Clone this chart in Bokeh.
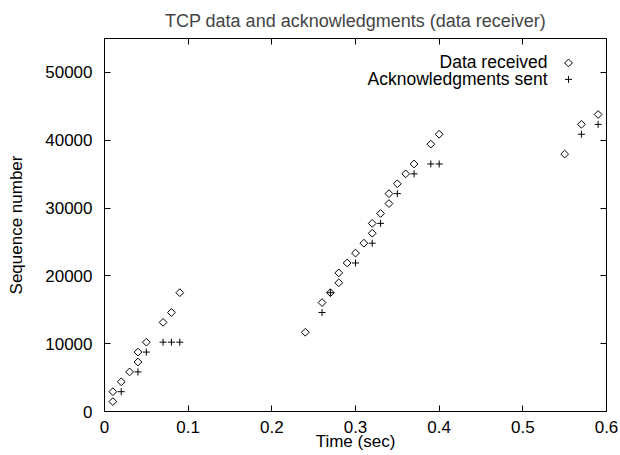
import numpy as np
from bokeh.plotting import figure
from bokeh.models import LinearAxis, Range1d, FixedTicker
from bokeh.core.properties import value
from bokeh.embed import file_html
from bokeh.resources import INLINE

# ---- data ----
recv_time = [0.01, 0.01, 0.02, 0.03, 0.04, 0.04, 0.05, 0.07, 0.08, 0.09,
             0.24, 0.26, 0.27, 0.28, 0.28, 0.29, 0.30, 0.31, 0.32, 0.32,
             0.33, 0.34, 0.34, 0.35, 0.36, 0.37, 0.39, 0.40,
             0.55, 0.57, 0.59]
recv_seq = [1460, 2920, 4380, 5840, 7300, 8760, 10220, 13140, 14600, 17520,
            11680, 16060, 17520, 18980, 20440, 21900, 23360, 24820, 26280, 27740,
            29200, 30660, 32120, 33580, 35040, 36500, 39420, 40880,
            37960, 42340, 43800]
ack_time = [0.02, 0.04, 0.05, 0.07, 0.08, 0.09,
            0.26, 0.27, 0.30, 0.32, 0.33, 0.35, 0.37, 0.39, 0.40,
            0.57, 0.59]
ack_seq = [2920, 5840, 8760, 10220, 10220, 10220,
           14600, 17520, 21900, 24820, 27740, 32120, 35040, 36500, 36500,
           40880, 42340]

x_ticks = [0, 0.1, 0.2, 0.3, 0.4, 0.5, 0.6]
x_tick_labels = ["0", "0.1", "0.2", "0.3", "0.4", "0.5", "0.6"]
y_ticks = [0, 10000, 20000, 30000, 40000, 50000]
y_tick_labels = ["0", "10000", "20000", "30000", "40000", "50000"]
legend_labels = ["Data received", "Acknowledgments sent"]

title_text = "TCP data and acknowledgments (data receiver)"
x_label = "Time (sec)"
y_label = "Sequence number"

FONT = "Liberation Sans"
FS = "17px"
FRAME_W, FRAME_H = 502, 374

p = figure(width=620, height=455,
           x_range=Range1d(0, 0.6), y_range=Range1d(0, 55000),
           output_backend="svg", toolbar_location=None,
           min_border_left=104, min_border_right=14,
           min_border_top=37, min_border_bottom=44,
           title=title_text)
p.extra_x_ranges = {"px": Range1d(0, FRAME_W)}
p.extra_y_ranges = {"px": Range1d(0, FRAME_H)}

p.title.align = "center"
p.title.text_font = FONT
p.title.text_font_size = "18px"
p.title.text_font_style = "normal"
p.title.standoff = 16

p.grid.visible = False
p.outline_line_color = "black"
p.outline_line_width = 1
p.background_fill_color = "white"
p.border_fill_color = "white"


def style_axis(ax, ticks, labels, show_labels=True):
    ax.ticker = FixedTicker(ticks=ticks)
    ax.major_label_overrides = {t: l for t, l in zip(ticks, labels)}
    ax.major_tick_in = 6
    ax.major_tick_out = 0
    ax.minor_tick_line_color = None
    ax.axis_line_color = "black"
    ax.major_tick_line_color = "black"
    ax.major_label_text_font = FONT
    ax.major_label_text_color = "black"
    if show_labels:
        ax.major_label_text_font_size = FS
    else:
        ax.major_label_text_font_size = "0px"
        ax.major_label_standoff = 0


xa = p.xaxis[0]
ya = p.yaxis[0]
style_axis(xa, x_ticks, x_tick_labels)
style_axis(ya, y_ticks, y_tick_labels)
xa.major_label_standoff = 9
ya.major_label_standoff = 12
xa.axis_label = x_label
ya.axis_label = y_label
for ax in (xa, ya):
    ax.axis_label_text_font = FONT
    ax.axis_label_text_font_size = FS
    ax.axis_label_text_font_style = "normal"
    ax.axis_label_text_color = "black"
xa.axis_label_standoff = -4
ya.axis_label_standoff = 16

top_ax = LinearAxis()
style_axis(top_ax, x_ticks, x_tick_labels, show_labels=False)
right_ax = LinearAxis()
style_axis(right_ax, y_ticks, y_tick_labels, show_labels=False)
p.add_layout(top_ax, "above")
p.add_layout(right_ax, "right")

# data
p.scatter(recv_time, recv_seq, marker="square", angle=np.pi / 4, size=5.5,
          fill_color=None, line_color="black", line_width=1)
p.scatter(ack_time, ack_seq, marker="cross", size=7,
          line_color="black", line_width=1)

# legend (frame pixel coordinates)
p.text(x=[443, 443], y=[350, 333], text=legend_labels,
       x_range_name="px", y_range_name="px",
       text_align="right", text_baseline="middle",
       text_font=value(FONT), text_font_size="17.5px", text_color="black")
p.scatter(x=[464], y=[349.5], marker="square", angle=np.pi / 4, size=5.5,
          fill_color=None, line_color="black", line_width=1,
          x_range_name="px", y_range_name="px")
p.scatter(x=[464], y=[333], marker="cross", size=7,
          line_color="black", line_width=1,
          x_range_name="px", y_range_name="px")

open("out.html", "w").write(file_html(p, INLINE))
